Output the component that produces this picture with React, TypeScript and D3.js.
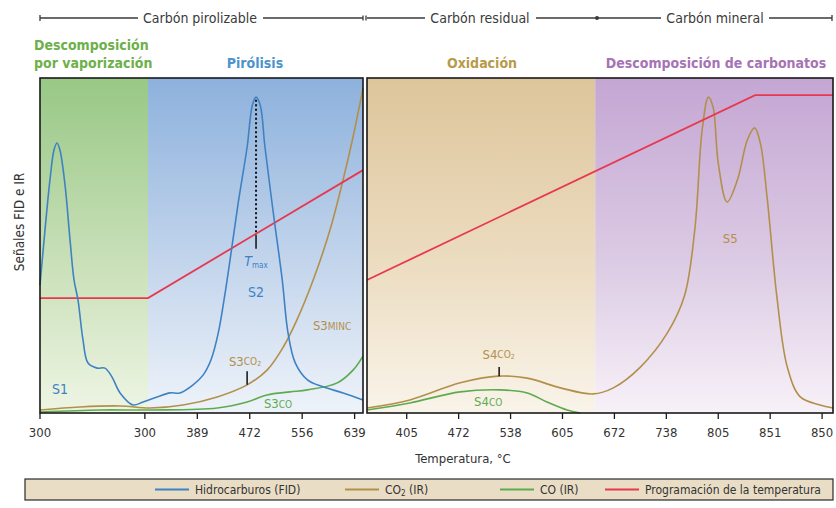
import * as d3 from "d3";

// eje X en unidades de marca (posiciones equiespaciadas); eje Y en señal 0-100
const leftTicks = [0, 2, 3, 4, 5, 6];
const leftTickLabels = ["300", "300", "389", "472", "556", "639"];
const rightTicks = [1, 2, 3, 4, 5, 6, 7, 8, 9];
const rightTickLabels = ["405", "472", "538", "605", "672", "738", "805", "851", "850"];

const leftBandEdges = [0, 2.06, 6.16];
const rightBandEdges = [0.235, 4.63, 9.21];

const fidLeft: [number, number][] = [
  [0, 38.2], [0.095, 54.6], [0.19, 69.6], [0.267, 78.5], [0.324, 80.6], [0.38, 78.5],
  [0.477, 68.1], [0.573, 51.6], [0.649, 39.7], [0.725, 33.7], [0.82, 21.8], [0.916, 14.9],
  [1.088, 13.4], [1.24, 13.4], [1.374, 10.7], [1.527, 6.0], [1.775, 2.4], [1.966, 3.3],
  [2.233, 4.8], [2.48, 6.0], [2.67, 6.0], [2.92, 8.4], [3.11, 11.3], [3.26, 15.8],
  [3.4, 23.9], [3.53, 35.8], [3.66, 49.6], [3.78, 62.7], [3.95, 79.4], [4.05, 91.9],
  [4.12, 94.3], [4.2, 91.9], [4.29, 79.4], [4.45, 59.7], [4.62, 39.7], [4.73, 23.9],
  [4.87, 14.9], [5.1, 9.9], [5.4, 7.8], [5.78, 6.0], [6.16, 3.9],
];
const co2Left: [number, number][] = [
  [0, 0.9], [0.76, 1.8], [1.53, 2.1], [2.1, 1.5], [2.73, 2.4], [3.38, 4.8], [3.95, 8.4],
  [4.33, 12.8], [4.64, 19.7], [4.9, 27.8], [5.21, 39.7], [5.53, 54.6], [5.78, 69.6],
  [5.97, 82.4], [6.16, 97.0],
];
const coLeft: [number, number][] = [
  [0, 0.3], [1.15, 0.9], [2.1, 0.9], [3.38, 1.5], [3.95, 3.3], [4.33, 5.4], [4.77, 6.3],
  [5.1, 6.9], [5.67, 9.0], [5.97, 12.8], [6.16, 17.0],
];
const tempLeft: [number, number][] = [[0, 34.3], [2.06, 34.3], [6.16, 72.5]];

const co2Right: [number, number][] = [
  [0.235, 1.5], [1.06, 3.9], [2.03, 9.0], [2.76, 11.0], [3.32, 10.4], [3.96, 7.5],
  [4.59, 5.7], [4.98, 7.5], [5.5, 13.7], [6.02, 23.9], [6.35, 35.0], [6.55, 55.0],
  [6.69, 84.5], [6.81, 94.3], [6.9, 91.3], [7.0, 74.6], [7.17, 63.0], [7.37, 69.6],
  [7.56, 81.5], [7.7, 85.1], [7.81, 80.6], [7.94, 64.5], [8.13, 34.6], [8.33, 13.7],
  [8.58, 4.8], [8.96, 2.4], [9.21, 1.5],
];
const coRight: [number, number][] = [
  [0.235, 0.9], [1.06, 3.0], [2.03, 6.3], [2.8, 6.9], [3.32, 6.0], [3.7, 3.3],
  [4.09, 0.9], [4.34, 0],
];
const tempRight: [number, number][] = [[0.235, 39.7], [7.71, 94.9], [9.21, 94.9]];

const tMax = 4.12;

const FONT = "'Liberation Sans Narrow','DejaVu Sans Condensed','Roboto Condensed',Arial,sans-serif";
const BLUE = "#3f82c4";
const TAN = "#b38f4c";
const GREEN = "#5eab4e";
const RED = "#e8384f";

export default function App() {
  const W = 836, H = 508;
  const y = d3.scaleLinear().domain([0, 100]).range([413, 78]);
  const xL = d3.scaleLinear().domain([0, 6.16]).range([40, 363]);
  const xR = d3.scaleLinear().domain([0.235, 9.21]).range([367, 833]);
  const smooth = d3.curveCatmullRom.alpha(0.5);
  const lineL = d3.line<[number, number]>().x((d) => xL(d[0])).y((d) => y(d[1])).curve(smooth);
  const lineR = d3.line<[number, number]>().x((d) => xR(d[0])).y((d) => y(d[1])).curve(smooth);
  const straightL = d3.line<[number, number]>().x((d) => xL(d[0])).y((d) => y(d[1]));
  const straightR = d3.line<[number, number]>().x((d) => xR(d[0])).y((d) => y(d[1]));

  const leftFills = ["url(#gGreen)", "url(#gBlue)"];
  const rightFills = ["url(#gTan)", "url(#gPurple)"];

  const grad = (id: string, top: string, mid: string, bottom: string) => (
    <linearGradient id={id} x1="0" y1="0" x2="0" y2="1">
      <stop offset="0" stopColor={top} />
      <stop offset="0.55" stopColor={mid} />
      <stop offset="1" stopColor={bottom} />
    </linearGradient>
  );

  const hdr = "#3a3a3a";
  const legendItems = [
    { c: BLUE, x: 155, label: "Hidrocarburos (FID)" },
    { c: TAN, x: 345, label: "CO2 (IR)" },
    { c: GREEN, x: 500, label: "CO (IR)" },
    { c: RED, x: 605, label: "Programación de la temperatura" },
  ];

  return (
    <svg width={W} height={H} style={{ position: "absolute", left: 0, top: 0, background: "#fff" }} fontFamily={FONT}>
      <defs>
        {grad("gGreen", "#98c886", "#c9e0b8", "#eef5e4")}
        {grad("gBlue", "#8db1dc", "#c3d5ec", "#eef3f9")}
        {grad("gTan", "#ddc59b", "#ecdcc0", "#f9f4ea")}
        {grad("gPurple", "#c4a6d3", "#dccbe4", "#f7f1f8")}
      </defs>

      {/* encabezado */}
      <g stroke={hdr} strokeWidth={1.3}>
        <line x1={40} x2={138} y1={18} y2={18} />
        <line x1={263} x2={363} y1={18} y2={18} />
        <line x1={367} x2={425} y1={18} y2={18} />
        <line x1={536} x2={597} y1={18} y2={18} />
        <line x1={597} x2={661} y1={18} y2={18} />
        <line x1={769} x2={832} y1={18} y2={18} />
        <line x1={40} x2={40} y1={15} y2={21} />
        <line x1={832} x2={832} y1={15} y2={21} />
        <line x1={363} x2={363} y1={15.5} y2={20.5} />
        <line x1={366} x2={366} y1={15.5} y2={20.5} />
      </g>
      <circle cx={597} cy={18} r={2} fill={hdr} />
      <g fill={hdr} fontSize={14} textAnchor="middle">
        <text x={200} y={23}>Carbón pirolizable</text>
        <text x={480} y={23}>Carbón residual</text>
        <text x={715} y={23}>Carbón mineral</text>
      </g>
      <g fontSize={14} fontWeight="bold">
        <text x={34} y={50} fill="#6db04a">Descomposición</text>
        <text x={34} y={68} fill="#6db04a">por vaporización</text>
        <text x={255} y={68} fill="#4d93cc" textAnchor="middle">Pirólisis</text>
        <text x={482} y={68} fill="#b89a4a" textAnchor="middle">Oxidación</text>
        <text x={716} y={68} fill="#a673b4" textAnchor="middle">Descomposición de carbonatos</text>
      </g>

      {/* fondos */}
      {leftFills.map((f, i) => (
        <rect key={i} x={xL(leftBandEdges[i])} y={y(100)} width={xL(leftBandEdges[i + 1]) - xL(leftBandEdges[i])} height={y(0) - y(100)} fill={f} />
      ))}
      {rightFills.map((f, i) => (
        <rect key={i} x={xR(rightBandEdges[i])} y={y(100)} width={xR(rightBandEdges[i + 1]) - xR(rightBandEdges[i])} height={y(0) - y(100)} fill={f} />
      ))}

      {/* curvas panel izquierdo */}
      <g fill="none" strokeWidth={1.6}>
        <path d={lineL(coLeft) ?? ""} stroke={GREEN} />
        <path d={lineL(co2Left) ?? ""} stroke={TAN} />
        <path d={straightL(tempLeft) ?? ""} stroke={RED} strokeWidth={1.8} />
        <path d={lineL(fidLeft) ?? ""} stroke={BLUE} />
        <line x1={xL(tMax)} x2={xL(tMax)} y1={y(93.5)} y2={y(53)} stroke="#111" strokeWidth={2} strokeDasharray="2,2.5" />
        <line x1={xL(tMax)} x2={xL(tMax)} y1={y(53)} y2={y(49)} stroke="#111" strokeWidth={1.5} />
        <line x1={xL(3.95)} x2={xL(3.95)} y1={y(12.5)} y2={y(8.4)} stroke="#111" strokeWidth={1.5} />
      </g>
      {/* curvas panel derecho */}
      <g fill="none" strokeWidth={1.6}>
        <path d={lineR(coRight) ?? ""} stroke={GREEN} />
        <path d={lineR(co2Right) ?? ""} stroke={TAN} />
        <path d={straightR(tempRight) ?? ""} stroke={RED} strokeWidth={1.8} />
        <line x1={xR(2.78)} x2={xR(2.78)} y1={y(13.7)} y2={y(11)} stroke="#111" strokeWidth={1.5} />
      </g>

      {/* etiquetas */}
      <g textAnchor="middle" dominantBaseline="middle">
        <text x={xL(0.38)} y={y(6.9)} fill={BLUE} fontSize={14}>S1</text>
        <text x={xL(tMax)} y={y(45)} fill={BLUE} fontSize={14} fontStyle="italic">
          T<tspan fontSize={8} fontStyle="normal" dy={3}>max</tspan>
        </text>
        <text x={xL(tMax)} y={y(35.8)} fill={BLUE} fontSize={14}>S2</text>
        <text x={xL(3.91)} y={y(15.2)} fill={TAN} fontSize={13}>
          S3<tspan fontSize={10}>CO</tspan><tspan fontSize={7} dy={2}>2</tspan>
        </text>
        <text x={xL(5.57)} y={y(25.7)} fill={TAN} fontSize={13}>
          S3<tspan fontSize={10}>MINC</tspan>
        </text>
        <text x={xL(4.54)} y={y(2.4)} fill={GREEN} fontSize={13}>
          S3<tspan fontSize={10}>CO</tspan>
        </text>
        <text x={xR(2.77)} y={y(17.3)} fill={TAN} fontSize={13}>
          S4<tspan fontSize={10}>CO</tspan><tspan fontSize={7} dy={2}>2</tspan>
        </text>
        <text x={xR(2.57)} y={y(3.0)} fill={GREEN} fontSize={13}>
          S4<tspan fontSize={10}>CO</tspan>
        </text>
        <text x={xR(7.23)} y={y(51.9)} fill={TAN} fontSize={13}>S5</text>
      </g>

      {/* marcos */}
      <rect x={40} y={78} width={323} height={335} fill="none" stroke="#1a1a1a" strokeWidth={1.6} />
      <rect x={367} y={78} width={466} height={335} fill="none" stroke="#1a1a1a" strokeWidth={1.6} />

      {/* ejes */}
      <g stroke="#1a1a1a" strokeWidth={1.3}>
        {leftTicks.map((t) => <line key={"l" + t} x1={xL(t)} x2={xL(t)} y1={413} y2={419} />)}
        {rightTicks.map((t) => <line key={"r" + t} x1={xR(t)} x2={xR(t)} y1={413} y2={419} />)}
      </g>
      <g fill="#333" fontSize={13} textAnchor="middle">
        {leftTicks.map((t, i) => <text key={"lt" + i} x={xL(t)} y={437}>{leftTickLabels[i]}</text>)}
        {rightTicks.map((t, i) => <text key={"rt" + i} x={xR(t)} y={437}>{rightTickLabels[i]}</text>)}
        <text x={463} y={463}>Temperatura, °C</text>
        <text transform="translate(24,222) rotate(-90)" fontSize={13.5}>Señales FID e IR</text>
      </g>

      {/* leyenda */}
      <rect x={25} y={479} width={808} height={21} fill="#e9ddc6" stroke="#2a2a2a" strokeWidth={1.2} />
      {legendItems.map((it) => (
        <g key={it.label}>
          <line x1={it.x} x2={it.x + 34} y1={489.5} y2={489.5} stroke={it.c} strokeWidth={2} />
          <text x={it.x + 40} y={494} fontSize={12} fill="#333">
            {it.label === "CO2 (IR)" ? (<>CO<tspan fontSize={8} dy={2}>2</tspan><tspan dy={-2}> (IR)</tspan></>) : it.label}
          </text>
        </g>
      ))}
    </svg>
  );
}
